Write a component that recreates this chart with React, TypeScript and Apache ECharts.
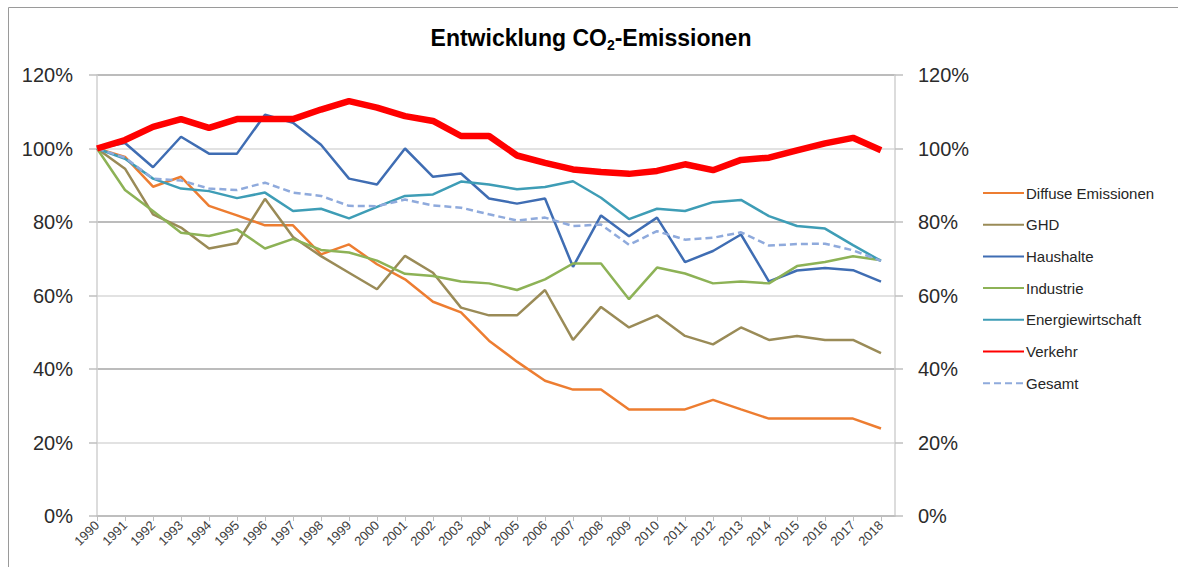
import React, { useEffect, useRef } from "react";
import * as echarts from "echarts";

const years = [1990, 1991, 1992, 1993, 1994, 1995, 1996, 1997, 1998, 1999, 2000, 2001, 2002, 2003, 2004, 2005, 2006, 2007, 2008, 2009, 2010, 2011, 2012, 2013, 2014, 2015, 2016, 2017, 2018];

const diffuse = [100, 97.7, 89.6, 92.3, 84.4, 81.8, 79.1, 79.1, 71.2, 73.9, 68.5, 64.4, 58.3, 55.4, 47.7, 42, 36.8, 34.4, 34.4, 29, 29, 29, 31.6, 29, 26.5, 26.5, 26.5, 26.5, 23.8];
const ghd = [100, 94.5, 82.1, 78.5, 72.8, 74.2, 86.3, 75.9, 70.7, 66.2, 61.7, 70.8, 66.2, 56.7, 54.6, 54.6, 61.5, 47.9, 56.9, 51.3, 54.6, 49, 46.7, 51.3, 47.9, 49, 47.9, 47.9, 44.3];
const haushalte = [100, 101.5, 94.9, 103.2, 98.6, 98.6, 109.2, 107, 101, 91.8, 90.2, 100, 92.3, 93.2, 86.4, 85, 86.4, 67.8, 81.8, 76.1, 81.2, 69.1, 72.1, 76.6, 63.8, 66.8, 67.5, 66.9, 63.8];
const industrie = [100, 88.7, 83, 77.1, 76.2, 78, 72.8, 75.4, 72.4, 71.7, 69.5, 65.9, 65.3, 63.8, 63.3, 61.5, 64.4, 68.7, 68.7, 59, 67.6, 66, 63.3, 63.8, 63.3, 68, 69.1, 70.7, 69.6];
const energie = [100, 97.2, 91.8, 89.1, 88.4, 86.5, 88, 83, 83.6, 81, 84.1, 87.1, 87.5, 91, 90.2, 88.9, 89.5, 91.1, 86.6, 80.8, 83.6, 83, 85.4, 86, 81.6, 78.9, 78.2, 73.7, 69.4];
const verkehr = [100, 102.3, 105.9, 108, 105.6, 108, 108, 108, 110.6, 112.9, 111.1, 108.8, 107.5, 103.4, 103.4, 98.1, 96.1, 94.3, 93.6, 93.1, 93.9, 95.7, 94.1, 96.9, 97.5, 99.5, 101.4, 102.9, 99.5];
const gesamt = [100, 97.5, 91.8, 91.3, 89.1, 88.7, 90.7, 88, 87.1, 84.4, 84.3, 86.1, 84.5, 83.9, 82.1, 80.4, 81.2, 78.9, 79.3, 73.8, 77.5, 75.2, 75.7, 77.2, 73.6, 74, 74.1, 72.3, 69.4];

const FONT = "'Liberation Sans', Arial, sans-serif";

export default function App() {
  const ref = useRef<HTMLDivElement>(null);

  useEffect(() => {
    if (!ref.current) return;
    const chart = echarts.init(ref.current, null, { renderer: "svg" });
    const pts = (arr: number[]) => years.map((y, i) => [y, arr[i]]);
    const mk = (name: string, data: number[], color: string, width: number, extra: any = {}) => ({
      name,
      type: "line",
      data: pts(data),
      symbol: "none",
      color,
      lineStyle: { color, width, ...(extra.lineStyle || {}) },
      z: extra.z || 2,
    });
    const yAxisBase = {
      type: "value",
      min: 0,
      max: 120,
      interval: 20,
      axisLabel: { formatter: "{value}%", fontSize: 20, color: "#2b2b2b", fontFamily: FONT },
      axisLine: { show: true, lineStyle: { color: "#d0d0d0", width: 1.5 } },
      axisTick: { show: true, length: 8, lineStyle: { color: "#bfbfbf", width: 1.5 } },
    };
    chart.setOption({
      animation: false,
      backgroundColor: "#ffffff",
      textStyle: { fontFamily: FONT },
      title: {
        text: "{b|Entwicklung CO}{s|2}{b|-Emissionen}",
        left: 586,
        textAlign: "center",
        top: 19,
        textStyle: {
          rich: {
            b: { fontSize: 23, fontWeight: "bold", color: "#000", fontFamily: FONT, lineHeight: 28 },
            s: { fontSize: 14, fontWeight: "bold", color: "#000", fontFamily: FONT, verticalAlign: "bottom", lineHeight: 28, padding: [11, 0, 0, 0] },
          },
        },
      },
      graphic: [
        {
          type: "polyline",
          shape: { points: [[8.5, 567], [8.5, 7.5], [1178, 7.5]] },
          style: { stroke: "#9a9a9a", lineWidth: 1, fill: "none" },
          silent: true,
        },
      ],
      legend: {
        orient: "vertical",
        left: 977,
        top: 179,
        itemWidth: 41,
        itemHeight: 14,
        itemGap: 13.7,
        itemStyle: { opacity: 0 },
        textStyle: { fontSize: 15, color: "#262626", fontFamily: FONT, lineHeight: 18, padding: [0, 0, 0, -3] },
        data: ["Diffuse Emissionen", "GHD", "Haushalte", "Industrie", "Energiewirtschaft", "Verkehr", "Gesamt"],
      },
      grid: { left: 97, right: 283, top: 75, bottom: 51, containLabel: false },
      xAxis: {
        type: "value",
        min: 1990,
        max: 2018.5,
        interval: 1,
        axisLine: { show: true, lineStyle: { color: "#bfbfbf", width: 1.5 }, onZero: false },
        axisTick: { show: true, length: 5, lineStyle: { color: "#bfbfbf" } },
        splitLine: { show: false },
        axisLabel: {
          rotate: 45,
          fontSize: 13,
          color: "#404040",
          margin: 7,
          showMaxLabel: false,
          fontFamily: FONT,
          formatter: (v: number) => (Number.isInteger(v) ? String(v) : ""),
        },
      },
      yAxis: [
        {
          ...yAxisBase,
          position: "left",
          axisLabel: { ...yAxisBase.axisLabel, margin: 24 },
          splitLine: { show: true, lineStyle: { color: ["#a6a6a6", "#d9d9d9"], width: 1.5 } },
        },
        {
          ...yAxisBase,
          position: "right",
          axisLabel: { ...yAxisBase.axisLabel, margin: 23 },
          splitLine: { show: false },
        },
      ],
      series: [
        mk("Diffuse Emissionen", diffuse, "#ED7D31", 2.5),
        mk("GHD", ghd, "#9A8B57", 2.5),
        mk("Haushalte", haushalte, "#3F6DB3", 2.5),
        mk("Industrie", industrie, "#8DB256", 2.5),
        mk("Energiewirtschaft", energie, "#3E9DB6", 2.5),
        mk("Verkehr", verkehr, "#FF0000", 6.5, { z: 4 }),
        mk("Gesamt", gesamt, "#8FAADC", 2.5, { lineStyle: { type: [7, 4] } }),
      ],
    });
    return () => chart.dispose();
  }, []);

  return <div ref={ref} style={{ position: "fixed", left: 0, top: 0, width: 1178, height: 567 }} />;
}
